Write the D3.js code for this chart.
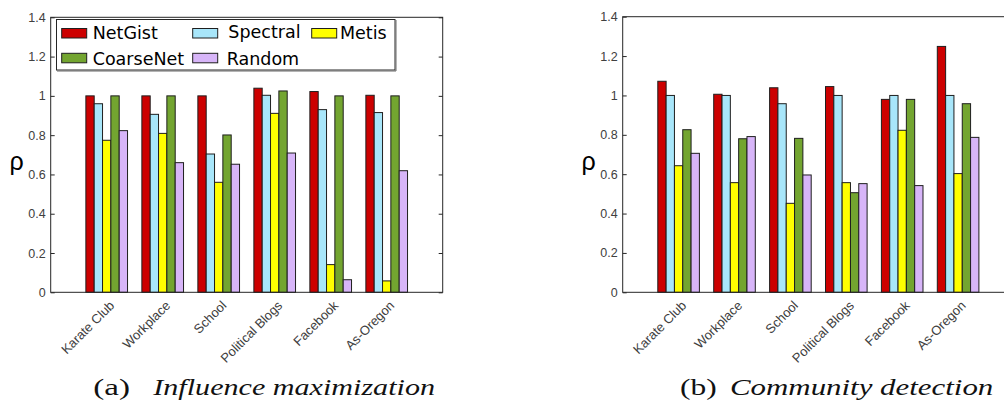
<!DOCTYPE html>
<html>
<head>
<meta charset="utf-8">
<script src="https://cdn.jsdelivr.net/npm/d3@7"></script>
<style>
  html, body { margin: 0; padding: 0; background: #ffffff; }
  svg { display: block; }
</style>
</head>
<body>
<svg id="chart" width="1004" height="415"></svg>
<script>
// Networks on the x axis and the methods compared in each group
const categories = ["Karate Club", "Workplace", "School", "Political Blogs", "Facebook", "As-Oregon"];
const seriesNames = ["NetGist", "Spectral", "Metis", "CoarseNet", "Random"];
const seriesColors = ["#cc0000", "#a8e6fa", "#ffff00", "#73a530", "#d7b5f8"];
const yTicks = [0, 0.2, 0.4, 0.6, 0.8, 1, 1.2, 1.4];

// (a) Influence maximization: rho per network
const imNetGist   = [1.000, 1.000, 1.000, 1.039, 1.022, 1.003];
const imSpectral  = [0.960, 0.906, 0.704, 1.003, 0.930, 0.915];
const imMetis     = [0.774, 0.809, 0.560, 0.911, 0.141, 0.058];
const imCoarseNet = [1.000, 1.000, 0.801, 1.025, 1.000, 1.000];
const imRandom    = [0.823, 0.660, 0.652, 0.709, 0.064, 0.619];

// (b) Community detection: rho per network
const cdNetGist   = [1.072, 1.006, 1.039, 1.045, 0.980, 1.249];
const cdSpectral  = [1.000, 1.000, 0.958, 1.000, 1.000, 1.000];
const cdMetis     = [0.643, 0.557, 0.452, 0.557, 0.823, 0.603];
const cdCoarseNet = [0.826, 0.780, 0.782, 0.506, 0.980, 0.958];
const cdRandom    = [0.706, 0.791, 0.596, 0.552, 0.542, 0.787];

const svg = d3.select("#chart");
const axisColor = "#262626";
const tickTextColor = "#404040";
const sansFont = "'Liberation Sans', Arial, Helvetica, sans-serif";
const serifFont = "'Liberation Serif', 'Times New Roman', serif";
const legendFont = "'DejaVu Sans', sans-serif";

function drawPanel(opts) {
  const { left, top, bottom, unit, series, caption, captionRest, capPos, legend } = opts;
  const right = left + unit * 7;
  const g = svg.append("g");

  const y = d3.scaleLinear().domain([0, 1.4]).range([bottom, top]);
  const x = d3.scaleBand()
    .domain(categories)
    .range([left + unit * 0.5, left + unit * 6.5])
    .paddingInner(0.256)
    .paddingOuter(0.128);
  const xs = d3.scaleBand().domain(seriesNames).range([0, x.bandwidth()]);
  const color = d3.scaleOrdinal().domain(seriesNames).range(seriesColors);

  // bars
  const rows = categories.map((c, i) => ({
    cat: c,
    vals: seriesNames.map((s, k) => ({ name: s, v: series[k][i] }))
  }));
  const grp = g.selectAll("g.grp").data(rows).join("g")
    .attr("class", "grp")
    .attr("transform", d => `translate(${x(d.cat)},0)`);
  grp.selectAll("rect").data(d => d.vals).join("rect")
    .attr("x", d => xs(d.name))
    .attr("y", d => y(d.v))
    .attr("width", xs.bandwidth())
    .attr("height", d => y(0) - y(d.v))
    .attr("fill", d => color(d.name))
    .attr("stroke", "#1e1e1e")
    .attr("stroke-width", 1);

  // y axis (ticks pointing inward)
  const yAxis = d3.axisLeft(y).tickValues(yTicks)
    .tickSizeInner(-4).tickSizeOuter(0).tickPadding(5)
    .tickFormat(d => String(+d.toFixed(1)));
  const ya = g.append("g").attr("transform", `translate(${left},0)`).call(yAxis);
  ya.attr("font-family", null).attr("font-size", null);
  ya.select(".domain").remove();
  ya.selectAll("line").attr("stroke", axisColor);
  ya.selectAll("text")
    .style("font-family", sansFont)
    .style("font-size", "12.5px")
    .attr("fill", tickTextColor);

  const yAxisR = d3.axisRight(y).tickValues(yTicks)
    .tickSizeInner(-4).tickSizeOuter(0).tickFormat("");
  const yr = g.append("g").attr("transform", `translate(${right},0)`).call(yAxisR);
  yr.select(".domain").remove();
  yr.selectAll("line").attr("stroke", axisColor);

  // x axis labels, rotated
  const xAxis = d3.axisBottom(x).tickSize(0).tickPadding(0);
  const xa = g.append("g").attr("transform", `translate(0,${bottom})`).call(xAxis);
  xa.attr("font-family", null).attr("font-size", null);
  xa.select(".domain").remove();
  xa.selectAll(".tick text")
    .style("font-family", sansFont)
    .style("font-size", "13px")
    .attr("fill", tickTextColor)
    .attr("text-anchor", "end")
    .attr("dy", null)
    .attr("y", 0)
    .attr("transform", "translate(8.5,14) rotate(-45)");

  // box
  g.append("rect")
    .attr("x", left).attr("y", top)
    .attr("width", right - left).attr("height", bottom - top)
    .attr("fill", "none").attr("stroke", axisColor).attr("stroke-width", 1);

  // y label
  g.append("text")
    .attr("x", left - 34).attr("y", 169.5)
    .attr("text-anchor", "middle")
    .style("font-family", sansFont)
    .style("font-size", "25px")
    .attr("fill", "#000")
    .text("ρ");

  // caption
  g.append("text")
    .attr("x", capPos[0]).attr("y", 395)
    .style("font-family", serifFont)
    .style("font-size", "23px")
    .attr("fill", "#111")
    .attr("textLength", capPos[1])
    .attr("lengthAdjust", "spacingAndGlyphs")
    .text(caption);
  g.append("text")
    .attr("x", capPos[2]).attr("y", 395)
    .style("font-family", serifFont)
    .style("font-style", "italic")
    .style("font-size", "23px")
    .attr("fill", "#111")
    .attr("textLength", capPos[3])
    .attr("lengthAdjust", "spacingAndGlyphs")
    .text(captionRest);

  if (legend) {
    const lg = g.append("g");
    lg.append("rect")
      .attr("x", 56.5).attr("y", 19.5).attr("width", 338.5).attr("height", 50.5)
      .attr("fill", "#fff").attr("stroke", axisColor).attr("stroke-width", 1);
    lg.append("path")
      .attr("d", "M57,71 H396 V20")
      .attr("fill", "none").attr("stroke", "#6a6a6a").attr("stroke-width", 1);
    const items = [
      { name: "NetGist",   sx: 61.7,  sy: 28.5, tx: 92.7,  ty: 39.3 },
      { name: "Spectral",  sx: 192.7, sy: 28.5, tx: 228.3, ty: 37.5 },
      { name: "Metis",     sx: 311.7, sy: 28.5, tx: 340,   ty: 39.3 },
      { name: "CoarseNet", sx: 61.7,  sy: 53.3, tx: 92.7,  ty: 65 },
      { name: "Random",    sx: 192.7, sy: 53.3, tx: 226.7, ty: 65 }
    ];
    items.forEach(it => {
      lg.append("rect")
        .attr("x", it.sx).attr("y", it.sy).attr("width", 25).attr("height", 9.5)
        .attr("fill", color(it.name)).attr("stroke", "#1e1e1e").attr("stroke-width", 1);
      lg.append("text")
        .attr("x", it.tx).attr("y", it.ty)
        .style("font-family", legendFont)
        .style("font-size", "17.5px")
        .attr("fill", "#000")
        .text(it.name);
    });
  }
}

drawPanel({
  left: 50.7, top: 17.3, bottom: 292.3, unit: 56,
  series: [imNetGist, imSpectral, imMetis, imCoarseNet, imRandom],
  caption: "(a)", captionRest: "Influence maximization",
  capPos: [93.3, 36.7, 153.3, 281.7],
  legend: true
});

drawPanel({
  left: 622.7, top: 16.7, bottom: 292.3, unit: 55.9,
  series: [cdNetGist, cdSpectral, cdMetis, cdCoarseNet, cdRandom],
  caption: "(b)", captionRest: "Community detection",
  capPos: [680, 36.7, 730, 263.3],
  legend: false
});
</script>
</body>
</html>
